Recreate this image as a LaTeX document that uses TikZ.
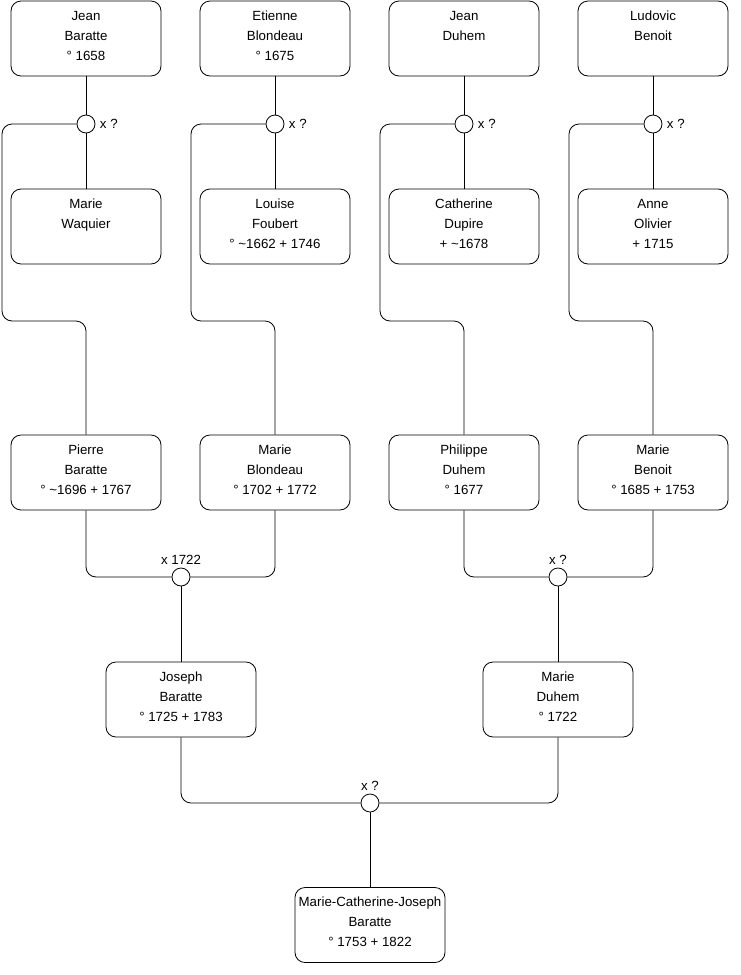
\documentclass[tikz,border=0pt]{standalone}
\usepackage{fontspec}
\setmainfont{Liberation Sans}
\begin{document}
\begin{tikzpicture}[x=1pt,y=-1pt,
  ptext/.style={align=center, inner sep=0pt, yshift=2.5pt, font=\fontsize{13.3}{20}\selectfont},
  person/.style n args={3}{draw=black, line width=0.8pt, rounded corners=10pt, minimum width=150pt, minimum height=75pt, inner sep=0pt, fill=white,
    label={[ptext]center:\strut #1\\\strut #2\\\strut #3}},
  union/.style={draw=black, line width=0.8pt, circle, minimum size=18pt, inner sep=0pt, fill=white},
  wire/.style={line width=0.8pt, rounded corners=10pt},
  rlab/.style={label={[font=\fontsize{13.3}{15}\selectfont, label distance=1pt]right:x ?}},
  alab/.style={label={[font=\fontsize{13.3}{15}\selectfont, label distance=0pt]above:#1}}]
\useasboundingbox (0,0) rectangle (740,975);
% row 1
\node[person={Jean}{Baratte}{° 1658}] (jean) at (86,38.5) {};
\node[person={Etienne}{Blondeau}{° 1675}] (etienne) at (275,38.5) {};
\node[person={Jean}{Duhem}{}] (jeand) at (464,38.5) {};
\node[person={Ludovic}{Benoit}{}] (ludovic) at (653,38.5) {};
% row 2
\node[person={Marie}{Waquier}{}] (waquier) at (86,226.5) {};
\node[person={Louise}{Foubert}{° \textasciitilde 1662 + 1746}] (foubert) at (275,226.5) {};
\node[person={Catherine}{Dupire}{+ \textasciitilde 1678}] (dupire) at (464,226.5) {};
\node[person={Anne}{Olivier}{+ 1715}] (olivier) at (653,226.5) {};
% unions row 1
\node[union, rlab] (u1) at (86,124) {};
\node[union, rlab] (u2) at (275,124) {};
\node[union, rlab] (u3) at (464,124) {};
\node[union, rlab] (u4) at (653,124) {};
% row 3
\node[person={Pierre}{Baratte}{° \textasciitilde 1696 + 1767}] (pierre) at (86,472.5) {};
\node[person={Marie}{Blondeau}{° 1702 + 1772}] (mblondeau) at (275,472.5) {};
\node[person={Philippe}{Duhem}{° 1677}] (philippe) at (464,472.5) {};
\node[person={Marie}{Benoit}{° 1685 + 1753}] (mbenoit) at (653,472.5) {};
% unions row 2
\node[union, alab=x 1722] (u5) at (181,577) {};
\node[union, alab=x ?] (u6) at (558,577) {};
% row 4
\node[person={Joseph}{Baratte}{° 1725 + 1783}] (joseph) at (181,699.5) {};
\node[person={Marie}{Duhem}{° 1722}] (mduhem) at (558,699.5) {};
% union row 3
\node[union, alab=x ?] (u7) at (370,803) {};
% row 5
\node[person={Marie-Catherine-Joseph}{Baratte}{° 1753 + 1822}] (mcj) at (370,925) {};
% turning points
\coordinate (c1) at (2,321);
\coordinate (c2) at (191,321);
\coordinate (c3) at (380,321);
\coordinate (c4) at (569,321);
% connectors
\draw[wire] (jean) -- (u1) -- (waquier);
\draw[wire] (etienne) -- (u2) -- (foubert);
\draw[wire] (jeand) -- (u3) -- (dupire);
\draw[wire] (ludovic) -- (u4) -- (olivier);
\draw[wire] (u1.west) -| (c1) -| (pierre.north);
\draw[wire] (u2.west) -| (c2) -| (mblondeau.north);
\draw[wire] (u3.west) -| (c3) -| (philippe.north);
\draw[wire] (u4.west) -| (c4) -| (mbenoit.north);
\draw[wire] (pierre.south) |- (u5.west);
\draw[wire] (mblondeau.south) |- (u5.east);
\draw[wire] (philippe.south) |- (u6.west);
\draw[wire] (mbenoit.south) |- (u6.east);
\draw[wire] (u5) -- (joseph);
\draw[wire] (u6) -- (mduhem);
\draw[wire] (joseph.south) |- (u7.west);
\draw[wire] (mduhem.south) |- (u7.east);
\draw[wire] (u7) -- (mcj);
\end{tikzpicture}
\end{document}
